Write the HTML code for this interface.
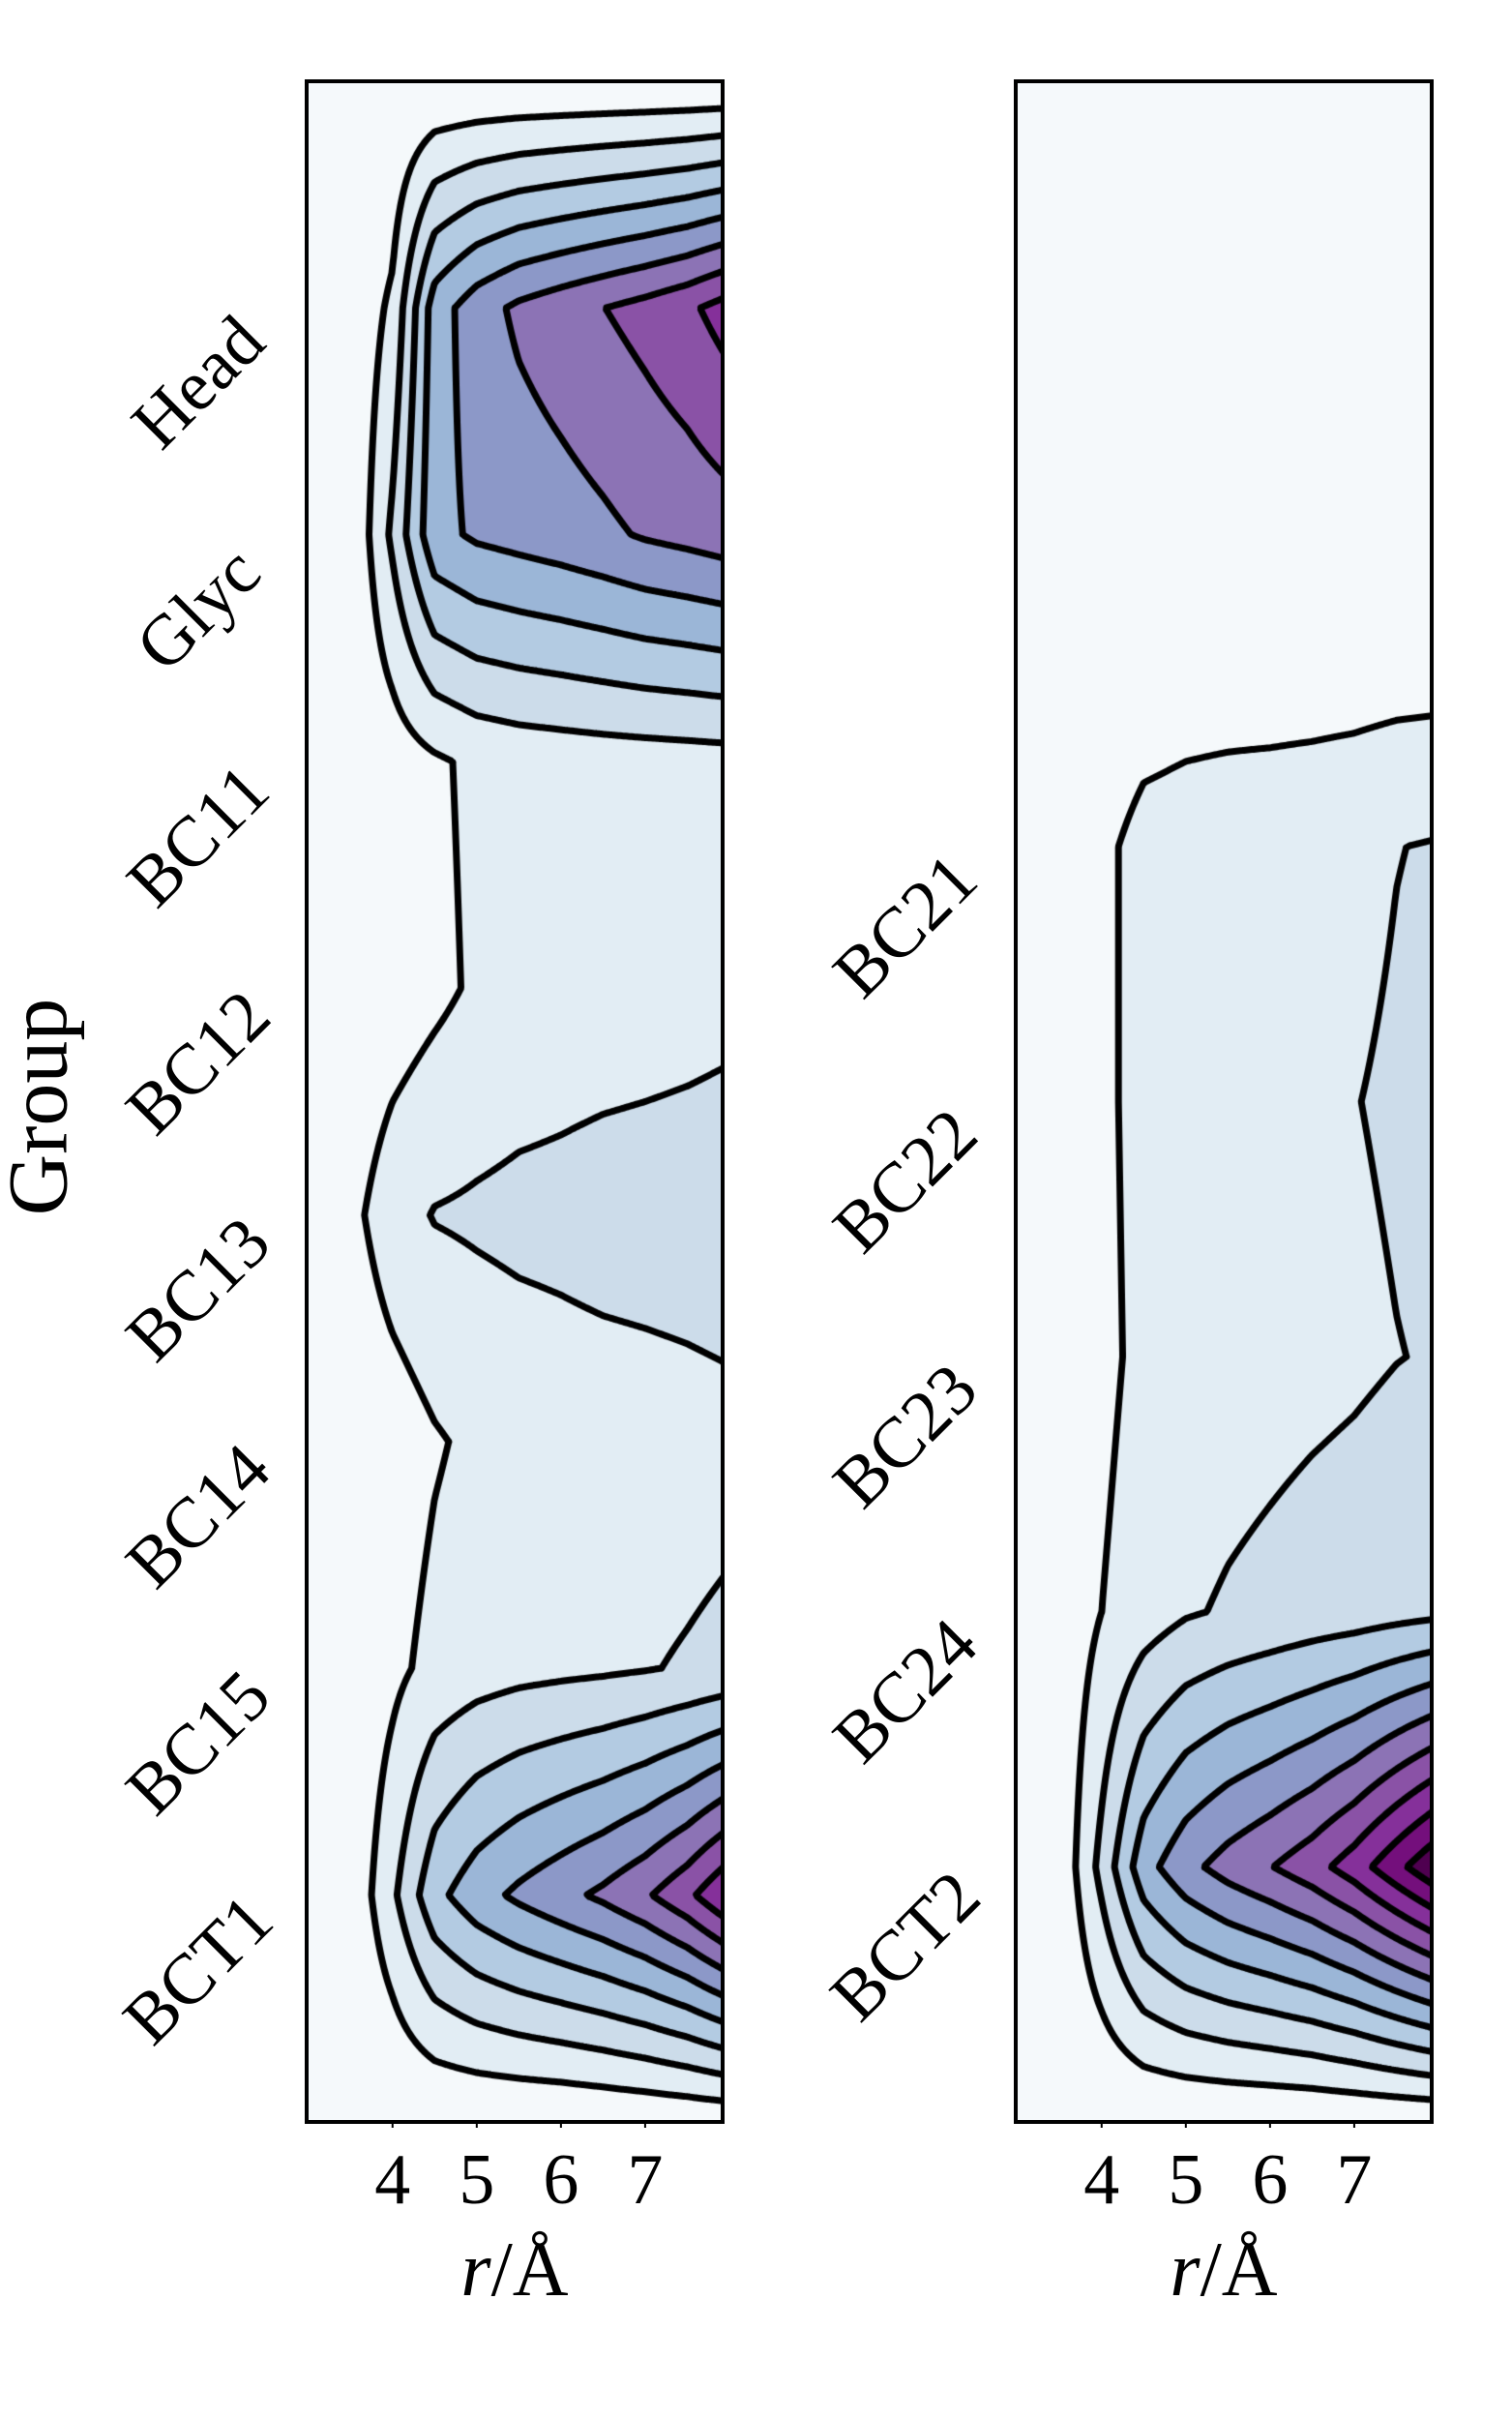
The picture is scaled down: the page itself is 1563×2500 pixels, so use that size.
<!DOCTYPE html>
<html>
<head>
<meta charset="utf-8">
<style>
  html,body{margin:0;padding:0;background:#ffffff;}
  #root{position:relative;width:1563px;height:2500px;overflow:hidden;background:#fff;}
  canvas{position:absolute;}
  svg{position:absolute;left:0;top:0;}
  text{font-family:"Liberation Serif",serif;fill:#000;}
</style>
</head>
<body>
<div id="root">
  <canvas id="cLeft" width="430" height="2109" style="left:317px;top:84px;width:430px;height:2109px;"></canvas>
  <canvas id="cRight" width="430" height="2109" style="left:1050px;top:84px;width:430px;height:2109px;"></canvas>
  <svg id="axes" width="1563" height="2500" viewBox="0 0 1563 2500">
    <text x="40" y="1144" font-size="88" text-anchor="middle" dominant-baseline="central" transform="rotate(-90 40 1144)">Group</text>
  </svg>
</div>
<script>
// ---- data ----
const rCols = [2.98, 3.5, 4.0, 4.5, 5.0, 5.5, 6.0, 6.5, 7.0, 7.5, 7.92];
const leftGroups = ['', 'Head', 'Glyc', 'BC11', 'BC12', 'BC13', 'BC14', 'BC15', 'BCT1', ''];
const leftValues = [
  [0, 0, 0, 0, 0, 0, 0, 0, 0, 0, 0],
  [0, 0.2, 1.2, 4.5, 5.55, 6.2, 6.6, 6.98, 7.35, 7.8, 8.35],
  [0, 0.05, 2.2, 4.7, 5.15, 5.35, 5.55, 5.8, 6.1, 6.3, 6.5],
  [0, 0.15, 0.45, 0.85, 1.2, 1.35, 1.42, 1.48, 1.52, 1.56, 1.6],
  [0, 0.1, 0.4, 0.75, 1.15, 1.35, 1.45, 1.5, 1.55, 1.62, 1.7],
  [0, 0.7, 1.6, 2.05, 2.15, 2.25, 2.3, 2.4, 2.45, 2.5, 2.55],
  [0, 0.15, 0.45, 0.9, 1.2, 1.35, 1.45, 1.5, 1.55, 1.62, 1.7],
  [0, 0.2, 0.75, 1.3, 1.55, 1.7, 1.78, 1.85, 1.95, 2.08, 2.2],
  [0, 0.2, 1.8, 3.7, 4.6, 5.2, 5.7, 6.2, 6.85, 7.75, 8.8],
  [0, 0, 0, 0, 0, 0, 0, 0.05, 0.1, 0.15, 0.2]
];
const rightGroups = ['', '', '', 'BC21', 'BC22', 'BC23', 'BC24', 'BCT2', ''];
const rightValues = [
  [0, 0, 0, 0, 0, 0, 0, 0, 0, 0, 0],
  [0, 0, 0, 0, 0, 0, 0, 0, 0, 0, 0],
  [0, 0, 0, 0.1, 0.2, 0.15, 0.05, 0, 0, 0, 0],
  [0, 0.1, 0.8, 1.3, 1.4, 1.5, 1.6, 1.7, 1.8, 1.98, 2.05],
  [0, 0.1, 0.8, 1.3, 1.45, 1.6, 1.7, 1.8, 1.98, 2.1, 2.2],
  [0, 0.1, 0.75, 1.25, 1.4, 1.55, 1.65, 1.75, 1.85, 1.98, 2.05],
  [0, 0.3, 1.0, 1.5, 1.9, 2.1, 2.25, 2.4, 2.5, 2.65, 2.76],
  [0, 0.2, 2.3, 4.6, 5.7, 6.4, 6.95, 7.6, 8.5, 9.7, 10.7],
  [0, 0, 0, 0, 0, 0, 0, 0, 0.03, 0.05, 0.07]
];
const levels = [1, 2, 3, 4, 5, 6, 7, 8, 9, 10];
const bandColors = ['#f5f9fb','#e2edf4','#ccdcea','#b3cbe2','#9bb6d7','#8c98c8','#8c73b5','#8a52a6','#85309a','#740f7c','#4f0050'];
const xTickValues = [4, 5, 6, 7];
const xTickLabels = ['4', '5', '6', '7'];

// ---- layout ----
const rMin = 2.98, rMax = 7.92;
const panelTop = 84, panelH = 2109, panelW = 430;
const panels = [
  {canvas: 'cLeft', x0: 317, values: leftValues, groups: leftGroups, labelDx: -112, labelDy: 77},
  {canvas: 'cRight', x0: 1050, values: rightValues, groups: rightGroups, labelDx: -114, labelDy: 82}
];

function hexToRgb(h){return [parseInt(h.slice(1,3),16),parseInt(h.slice(3,5),16),parseInt(h.slice(5,7),16)];}
const bandRgb = bandColors.map(hexToRgb);

function xScale(p, r){ return p.x0 + (r - rMin) / (rMax - rMin) * panelW; }
function yScale(p, i){ return panelTop + i * panelH / (p.values.length - 1); }

function drawPanel(p){
  const cv = document.getElementById(p.canvas);
  const ctx = cv.getContext('2d');
  const W = panelW, H = panelH, V = p.values, n = V.length;
  function colInfo(px){
    const r = rMin + px / W * (rMax - rMin);
    let j = 0;
    while (j < rCols.length - 2 && r > rCols[j+1]) j++;
    let t = (r - rCols[j]) / (rCols[j+1] - rCols[j]);
    t = Math.max(0, Math.min(1, t));
    return [j, t];
  }
  function val(px, py){
    const ci = colInfo(px); const j = ci[0], t = ci[1];
    let u = py / H * (n - 1);
    let i = Math.floor(u); if (i > n - 2) i = n - 2; if (i < 0) i = 0;
    const s = Math.max(0, Math.min(1, u - i));
    const a = V[i][j] * (1 - t) + V[i][j+1] * t;
    const b = V[i+1][j] * (1 - t) + V[i+1][j+1] * t;
    return a * (1 - s) + b * s;
  }
  const img = ctx.createImageData(W, H);
  for (let py = 0; py < H; py++){
    for (let px = 0; px < W; px++){
      const v = val(px + 0.5, py + 0.5);
      let b = 0;
      for (let k = 0; k < levels.length; k++) if (v > levels[k]) b = k + 1;
      if (b > bandRgb.length - 1) b = bandRgb.length - 1;
      const c = bandRgb[b]; const o = (py * W + px) * 4;
      img.data[o] = c[0]; img.data[o+1] = c[1]; img.data[o+2] = c[2]; img.data[o+3] = 255;
    }
  }
  ctx.putImageData(img, 0, 0);
  const step = 2;
  const gw = Math.floor(W / step) + 1, gh = Math.floor(H / step) + 1;
  const G = new Float32Array(gw * gh);
  for (let gy = 0; gy < gh; gy++) for (let gx = 0; gx < gw; gx++)
    G[gy * gw + gx] = val(Math.min(gx * step, W), Math.min(gy * step, H));
  ctx.strokeStyle = '#000'; ctx.lineWidth = 7; ctx.lineCap = 'round'; ctx.lineJoin = 'round';
  levels.forEach(function(L){
    ctx.beginPath();
    for (let gy = 0; gy < gh - 1; gy++){
      for (let gx = 0; gx < gw - 1; gx++){
        const a = G[gy*gw+gx], b = G[gy*gw+gx+1], c = G[(gy+1)*gw+gx+1], d = G[(gy+1)*gw+gx];
        const idx = (a>L?8:0)|(b>L?4:0)|(c>L?2:0)|(d>L?1:0);
        if (idx === 0 || idx === 15) continue;
        const x = gx*step, y = gy*step;
        const T = [x + step*(L-a)/(b-a), y];
        const R = [x + step, y + step*(L-b)/(c-b)];
        const B = [x + step*(L-d)/(c-d), y + step];
        const Lf = [x, y + step*(L-a)/(d-a)];
        let segs;
        switch(idx){
          case 1: case 14: segs=[[Lf,B]]; break;
          case 2: case 13: segs=[[B,R]]; break;
          case 3: case 12: segs=[[Lf,R]]; break;
          case 4: case 11: segs=[[T,R]]; break;
          case 5: segs=[[T,Lf],[B,R]]; break;
          case 6: case 9: segs=[[T,B]]; break;
          case 7: case 8: segs=[[T,Lf]]; break;
          case 10: segs=[[T,R],[Lf,B]]; break;
        }
        segs.forEach(function(s){ ctx.moveTo(s[0][0], s[0][1]); ctx.lineTo(s[1][0], s[1][1]); });
      }
    }
    ctx.stroke();
  });
}

const svg = document.getElementById('axes');
const NS = 'http://www.w3.org/2000/svg';
function mk(tag, attrs){ const e = document.createElementNS(NS, tag); for (const k in attrs) e.setAttribute(k, attrs[k]); return e; }

panels.forEach(function(p, pi){
  drawPanel(p);
  const fr = mk('rect', {x: p.x0, y: panelTop, width: panelW, height: panelH, fill: 'none', stroke: '#000', 'stroke-width': 4});
  
  
  svg.appendChild(fr);
  xTickValues.forEach(function(tv, k){
    const x = xScale(p, tv);
    const tk = mk('line', {x1: x, y1: panelTop + panelH, x2: x, y2: panelTop + panelH + 6, stroke: '#000', 'stroke-width': 2});
    
    
    svg.appendChild(tk);
    const tl = mk('text', {x: x, y: 2277, 'font-size': 74, 'text-anchor': 'middle'});
    tl.textContent = xTickLabels[k];
    
    
    svg.appendChild(tl);
  });
  const cx = p.x0 + panelW / 2;
  const xt = mk('text', {x: cx, y: 2372, 'font-size': 80, 'text-anchor': 'middle'});
  const it = mk('tspan', {'font-style': 'italic'}); it.textContent = 'r';
  xt.appendChild(it);
  const rest = mk('tspan', {}); rest.textContent = '/Å';
  xt.appendChild(rest);
  
  
  svg.appendChild(xt);
  p.groups.forEach(function(g, i){
    if (!g) return;
    const y = yScale(p, i);
    const lx = p.x0 + p.labelDx, ly = y + p.labelDy;
    const t = mk('text', {x: lx, y: ly, 'font-size': 74, 'text-anchor': 'middle', 'dominant-baseline': 'central', transform: 'rotate(-45 ' + lx + ' ' + ly + ')'});
    t.textContent = g;
    
    
    svg.appendChild(t);
  });
});
</script>
</body>
</html>
